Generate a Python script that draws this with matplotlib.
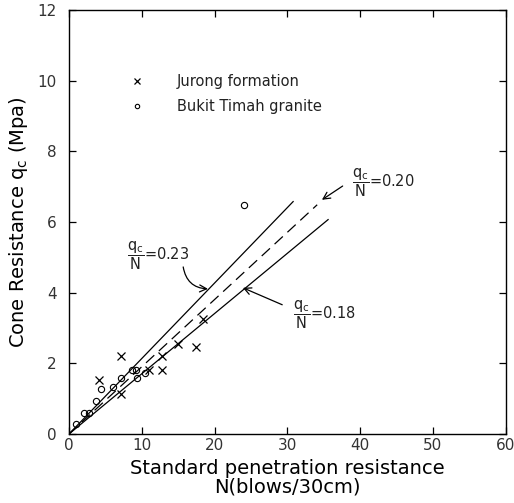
import numpy as np
import matplotlib
matplotlib.use('Agg')
import matplotlib.pyplot as plt

# data
jurong_n = [4.1, 7.1, 7.1, 11.0, 12.8, 12.8, 15.0, 17.4, 18.4]
jurong_q = [1.54, 2.21, 1.14, 1.81, 2.20, 1.81, 2.54, 2.46, 3.26]

bukit_n = [0.96, 2.06, 2.75, 3.7, 4.4, 6.1, 7.1, 8.7, 9.2, 9.4, 10.4, 24.1]
bukit_q = [0.28, 0.61, 0.61, 0.95, 1.28, 1.34, 1.60, 1.81, 1.81, 1.60, 1.74, 6.48]

# fitted lines through origin: (end N, end q)
line_upper = (30.8, 6.58)
line_mid = (34.1, 6.49)
line_lower = (35.6, 6.07)

ratio_labels = ['0.20', '0.23', '0.18']
label_pos = [(38.9, 7.1), (8.0, 5.06), (30.8, 3.38)]
arrow_tail = [(37.6, 7.02), (15.7, 4.73), (29.3, 3.66)]
arrow_head = [(34.75, 6.63), (19.1, 4.11), (23.9, 4.14)]
arrow_rad = [0.0, 0.4, 0.0]

fig = plt.figure(figsize=(5.14, 5.03), dpi=100)
ax = fig.add_axes([0.134, 0.137, 0.850, 0.843])

for end, ls in [(line_upper, '-'), (line_mid, (0, (9, 5))), (line_lower, '-')]:
    ax.plot([0, end[0]], [0, end[1]], color='black', lw=0.9, ls=ls)

ax.plot(jurong_n, jurong_q, 'x', color='black', ms=5.5, mew=0.9,
        label='Jurong formation', clip_on=False)
ax.plot(bukit_n, bukit_q, 'o', mfc='none', mec='black', ms=4.5, mew=0.8,
        label='Bukit Timah granite', clip_on=False)

for lab, pos, tail, head, rad in zip(ratio_labels, label_pos, arrow_tail, arrow_head, arrow_rad):
    ax.text(pos[0], pos[1], r'$\dfrac{\rm q_c}{\rm N}$=' + lab, fontsize=10.5,
            color='#222222', ha='left', va='center')
    ax.annotate('', xy=head, xytext=tail,
                arrowprops=dict(arrowstyle='->,head_length=0.5,head_width=0.25',
                                color='black', lw=0.9,
                                connectionstyle='arc3,rad=%s' % rad,
                                shrinkA=0, shrinkB=0))

leg = ax.legend(loc='upper left', bbox_to_anchor=(0.11, 0.88), frameon=False,
                fontsize=10.5, handlelength=1.0, handletextpad=2.2,
                labelspacing=0.7, markerscale=0.7)
for t in leg.get_texts():
    t.set_color('#222222')

ax.set_xlim(0, 60)
ax.set_ylim(0, 12)
ax.set_xticks(np.arange(0, 61, 10))
ax.set_yticks(np.arange(0, 13, 2))
ax.tick_params(direction='in', top=True, right=True, length=5, width=0.9,
               labelsize=11, labelcolor='#333333')
ax.tick_params(axis='x', pad=3)
ax.tick_params(axis='y', pad=9)
for s in ax.spines.values():
    s.set_linewidth(1.0)

ax.set_xlabel('Standard penetration resistance\nN(blows/30cm)', fontsize=14,
              linespacing=1.0, labelpad=4)
ax.set_ylabel(r'Cone Resistance q$_{\rm c}$ (Mpa)', fontsize=14, labelpad=5)

fig.savefig('out.png', dpi=100)
